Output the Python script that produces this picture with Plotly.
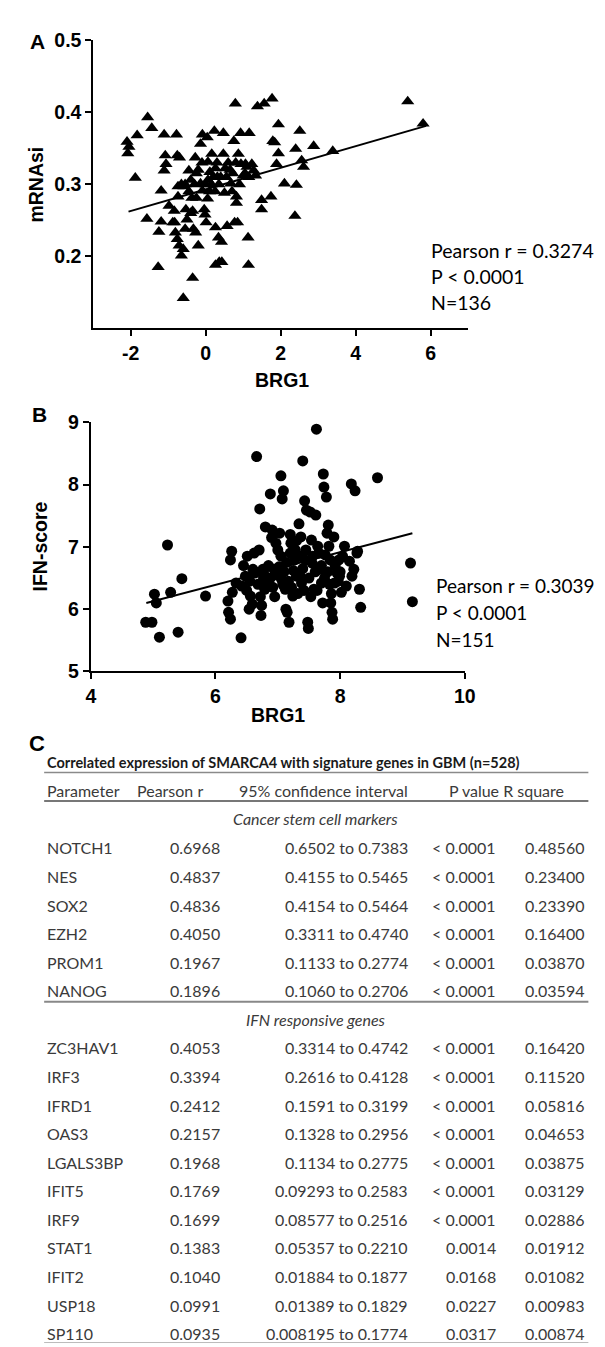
import plotly.graph_objects as go

W, H = 605, 1347

# ---------------- Panel A data (BRG1 vs mRNAsi) ----------------
a_x = [-2.10, -2.08, -2.05, -1.83, -1.88, -1.55, -1.44, -1.57, -1.19, -1.19, -1.25, -1.27,
       -1.11, -1.08, -1.06, -1.11, -0.98,
       -0.88, -0.78, -0.76, -0.70, -0.74, -0.74, -0.84, -0.83, -0.81, -0.76, -0.71, -0.65,
       -0.60, -0.58, -0.53, -0.50, -0.60, -0.55, -0.45, -0.40, -0.37, -0.35, -0.33, -0.28,
       -0.25, -0.25, -0.27, -0.20, -0.35,
       -0.14, -0.09, -0.14, -0.09, -0.04, -0.02, 0.01, 0.06, 0.04, 0.06, 0.11, 0.16, 0.23,
       0.26, 0.31, 0.26, 0.34, 0.42, 0.26, 0.36, 0.43, 0.47, 0.47, 0.52, 0.50, 0.57, 0.67,
       0.72, 0.75, 0.79, 0.82, 0.82, 0.77, 0.85, 0.87, 0.93, 0.94, 1.00, 1.06, 1.10, 1.16,
       1.13, 1.14, 1.23, 1.28, 1.33, 1.38, 1.49, 1.49, 1.56, 1.74, 1.77, 1.79, 1.84, 1.89,
       1.94, 1.94, 2.10, 2.42, 2.40, 2.38, 2.51, 2.56, 2.61, 2.88, 3.39, 5.39, 5.80,
       -0.65, -0.55, -0.45, -0.40, -0.30, -0.20, -0.10, 0.00, 0.05, 0.10, 0.15, 0.20, 0.25,
       0.30, 0.35, 0.40, 0.55, 0.60, 0.65, 0.70, 0.80, 0.90, 1.05, 1.15]
a_y = [0.359, 0.343, 0.352, 0.368, 0.309, 0.393, 0.378, 0.252, 0.291, 0.248, 0.234, 0.185,
       0.369, 0.340, 0.328, 0.319, 0.270,
       0.247, 0.369, 0.340, 0.337, 0.297, 0.283, 0.263, 0.247, 0.233, 0.224, 0.215, 0.201,
       0.210, 0.297, 0.265, 0.251, 0.142, 0.238, 0.319, 0.306, 0.281, 0.263, 0.238, 0.337,
       0.315, 0.281, 0.233, 0.215, 0.170,
       0.356, 0.369, 0.301, 0.291, 0.265, 0.258, 0.247, 0.306, 0.365, 0.331, 0.317, 0.342, 0.374,
       0.322, 0.310, 0.240, 0.226, 0.220, 0.188, 0.192, 0.192, 0.371, 0.342, 0.322, 0.288, 0.242, 0.301,
       0.315, 0.360, 0.412, 0.283, 0.274, 0.247, 0.247, 0.342, 0.371, 0.328, 0.312, 0.328, 0.324, 0.371,
       0.226, 0.188, 0.328, 0.319, 0.312, 0.408, 0.278, 0.265, 0.412, 0.283, 0.419, 0.360, 0.358, 0.328,
       0.343, 0.383, 0.301, 0.299, 0.349, 0.256, 0.374, 0.333, 0.324, 0.353, 0.346, 0.415, 0.384,
       0.300, 0.300, 0.290, 0.260, 0.300, 0.320, 0.330, 0.300, 0.280, 0.290, 0.300, 0.310, 0.290,
       0.330, 0.300, 0.310, 0.310, 0.330, 0.320, 0.290, 0.330, 0.300, 0.315, 0.310]
a_fit_x = [-2.06, 5.88]
a_fit_y = [0.262, 0.381]
a_xticks = [-2, 0, 2, 4, 6]
a_xticklabels = ["-2", "0", "2", "4", "6"]
a_yticks = [0.2, 0.3, 0.4, 0.5]
a_yticklabels = ["0.2", "0.3", "0.4", "0.5"]
a_stats = ["Pearson r = 0.3274", "P < 0.0001", "N=136"]

# ---------------- Panel B data (BRG1 vs IFN-score) ----------------
b_x = [4.88, 4.98, 5.10, 5.02, 5.05, 5.23, 5.28, 5.40, 5.46, 5.84, 6.20, 6.21, 6.24, 6.24,
       6.26, 6.27, 6.33, 6.41, 6.42, 6.48, 6.51, 6.54, 6.56, 6.59, 6.60, 6.63, 6.66, 6.70,
       6.71, 6.73, 6.74, 6.76, 6.77, 6.79, 6.80, 6.83, 6.88, 6.91, 6.94, 6.97, 7.00, 7.03,
       7.05, 7.06, 7.07, 7.09, 7.12, 7.13, 7.15, 7.18, 7.21, 7.24, 7.27, 7.30, 7.34, 7.37,
       7.38, 7.40, 7.43, 7.44, 7.46, 7.48, 7.49, 7.52, 7.54, 7.55, 7.58, 7.61, 7.62, 7.64,
       7.67, 7.70, 7.72, 7.73, 7.74, 7.76, 7.78, 7.79, 7.81, 7.82, 7.84, 7.85, 7.87, 7.88,
       7.90, 7.91, 7.95, 7.98, 7.99, 8.02, 8.04, 8.07, 8.10, 8.15, 8.18, 8.19, 8.22, 8.24,
       8.27, 8.28, 8.31, 8.33, 8.60, 9.13, 9.16,
       6.45, 6.50, 6.55, 6.62, 6.68, 6.72, 6.78, 6.85, 6.88, 6.92, 6.95, 6.98, 7.02, 7.05,
       7.08, 7.10, 7.14, 7.17, 7.20, 7.22, 7.25, 7.28, 7.32, 7.35, 7.36, 7.40, 7.42, 7.45,
       7.50, 7.53, 7.56, 7.60, 7.63, 7.66, 7.70, 7.75, 7.80, 7.83, 7.86, 7.92, 7.97, 8.00,
       7.20, 7.30, 6.90]
b_y = [5.79, 5.79, 5.55, 6.24, 6.10, 7.03, 6.27, 5.63, 6.49, 6.21, 6.13, 5.95, 5.84, 6.79,
       6.93, 6.27, 6.42, 5.54, 6.37, 6.53, 6.85, 6.00, 6.21, 6.08, 6.64, 6.58, 8.45, 6.95,
       7.61, 5.90, 6.06, 6.64, 6.50, 6.32, 7.32, 6.42, 7.85, 7.27, 6.64, 7.06, 6.95, 7.22,
       8.14, 6.48, 7.77, 7.90, 6.32, 6.00, 5.95, 5.79, 7.06, 6.21, 6.79, 6.53, 7.37, 7.16,
       6.42, 8.38, 7.74, 6.79, 7.59, 5.79, 5.69, 7.56, 7.11, 6.74, 6.32, 7.51, 8.89, 7.01,
       6.64, 6.42, 6.10, 8.17, 7.96, 6.87, 7.80, 7.22, 7.35, 7.01, 6.79, 6.10, 5.95, 5.84,
       7.16, 6.42, 6.58, 6.79, 6.53, 6.27, 6.85, 7.01, 6.37, 6.77, 8.01, 6.53, 6.64, 7.90,
       6.90, 6.93, 6.32, 6.03, 8.11, 6.74, 6.12,
       6.70, 6.30, 6.45, 6.90, 6.40, 6.20, 6.55, 6.70, 6.50, 6.35, 6.20, 6.55, 6.68, 6.85,
       6.40, 6.60, 6.75, 6.45, 6.90, 6.35, 6.62, 6.95, 6.25, 6.55, 6.85, 6.65, 6.30, 6.95,
       6.50, 6.20, 6.85, 6.60, 6.30, 6.90, 6.70, 6.50, 6.60, 6.40, 6.25, 6.70, 6.45, 6.60,
       7.20, 7.10, 7.15]
b_fit_x = [4.89, 9.16]
b_fit_y = [6.10, 7.22]
b_xticks = [4, 6, 8, 10]
b_yticks = [5, 6, 7, 8, 9]
b_stats = ["Pearson r = 0.3039", "P < 0.0001", "N=151"]

# ---------------- Panel C table data ----------------
table_title = "Correlated expression of SMARCA4 with signature genes in GBM (n=528)"
header = ["Parameter", "Pearson r", "95% confidence interval", "P value R square"]
section1 = "Cancer stem cell markers"
c_genes = ["NOTCH1", "NES", "SOX2", "EZH2", "PROM1", "NANOG"]
c_r = ["0.6968", "0.4837", "0.4836", "0.4050", "0.1967", "0.1896"]
c_ci = ["0.6502 to 0.7383", "0.4155 to 0.5465", "0.4154 to 0.5464", "0.3311 to 0.4740",
        "0.1133 to 0.2774", "0.1060 to 0.2706"]
c_p = ["< 0.0001"] * 6
c_r2 = ["0.48560", "0.23400", "0.23390", "0.16400", "0.03870", "0.03594"]
section2 = "IFN responsive genes"
i_genes = ["ZC3HAV1", "IRF3", "IFRD1", "OAS3", "LGALS3BP", "IFIT5", "IRF9", "STAT1",
           "IFIT2", "USP18", "SP110"]
i_r = ["0.4053", "0.3394", "0.2412", "0.2157", "0.1968", "0.1769", "0.1699", "0.1383",
       "0.1040", "0.0991", "0.0935"]
i_ci = ["0.3314 to 0.4742", "0.2616 to 0.4128", "0.1591 to 0.3199", "0.1328 to 0.2956",
        "0.1134 to 0.2775", "0.09293 to 0.2583", "0.08577 to 0.2516", "0.05357 to 0.2210",
        "0.01884 to 0.1877", "0.01389 to 0.1829", "0.008195 to 0.1774"]
i_p = ["< 0.0001"] * 7 + ["0.0014", "0.0168", "0.0227", "0.0317"]
i_r2 = ["0.16420", "0.11520", "0.05816", "0.04653", "0.03875", "0.03129", "0.02886",
        "0.01912", "0.01082", "0.00983", "0.00874"]

# ---------------- helpers ----------------
def px(x):
    return x / W

def py(y):
    return 1 - y / H

LAB = "Liberation Sans, Arial, Helvetica, sans-serif"
AX_FONT = dict(family=LAB, size=19.5, color="black", weight="bold")
TXT_FONT = "Lato, Open Sans, sans-serif"
TBL_COLOR = "#3a3a3a"

fig = go.Figure()

# Panel A
fig.add_trace(go.Scatter(x=a_x, y=a_y, mode="markers", xaxis="x", yaxis="y",
                         marker=dict(symbol="triangle-up", size=11.5, color="black"),
                         showlegend=False, hoverinfo="skip"))
fig.add_trace(go.Scatter(x=a_fit_x, y=a_fit_y, mode="lines", xaxis="x", yaxis="y",
                         line=dict(color="black", width=2), showlegend=False, hoverinfo="skip"))
# Panel B
fig.add_trace(go.Scatter(x=b_x, y=b_y, mode="markers", xaxis="x2", yaxis="y2",
                         marker=dict(symbol="circle", size=11, color="black"),
                         showlegend=False, hoverinfo="skip"))
fig.add_trace(go.Scatter(x=b_fit_x, y=b_fit_y, mode="lines", xaxis="x2", yaxis="y2",
                         line=dict(color="black", width=2), showlegend=False, hoverinfo="skip"))

axis_common = dict(showline=True, linecolor="black", linewidth=2, ticks="outside",
                   ticklen=6, tickwidth=2, tickcolor="black", showgrid=False,
                   zeroline=False, tickfont=AX_FONT)

fig.update_layout(
    width=W, height=H, margin=dict(l=0, r=0, t=0, b=0),
    paper_bgcolor="white", plot_bgcolor="white",
    xaxis=dict(domain=[px(82.5), px(467.4)], range=[-3, 7], tickvals=a_xticks,
               ticktext=a_xticklabels, anchor="y", **axis_common),
    yaxis=dict(domain=[py(314.5), py(21.5)], range=[0.1, 0.5],
               tickvals=a_yticks, ticktext=a_yticklabels, anchor="x", **axis_common),
    xaxis2=dict(domain=[px(80), px(464)], range=[4, 10], tickvals=b_xticks,
                anchor="y2", **axis_common),
    yaxis2=dict(domain=[py(663.3), py(410)], range=[5, 9], tickvals=b_yticks,
                anchor="x2", **axis_common),
)

ann = []

def text(x, y, s, size, anchor="left", bold=False, italic=False, color="black",
         family=TXT_FONT, angle=0):
    ann.append(dict(x=px(x), y=py(y), xref="paper", yref="paper", text=s, showarrow=False,
                    xanchor=anchor, yanchor="middle", textangle=angle, borderpad=0,
                    font=dict(family=family, size=size, color=color,
                              weight="bold" if bold else "normal",
                              style="italic" if italic else "normal")))

# Panel letters
text(25, 23, "A", 21, "center", bold=True, family=LAB)
text(27, 402, "B", 21, "center", bold=True, family=LAB)
text(25, 737, "C", 22, "center", bold=True, family=LAB)
# Axis titles
text(276, 367, "BRG1", 19.5, "center", bold=True, family=LAB)
text(24, 168, "mRNAsi", 19.5, "center", bold=True, family=LAB, angle=-90)
text(272, 708, "BRG1", 19.5, "center", bold=True, family=LAB)
text(28, 536, "IFN-score", 19.5, "center", bold=True, family=LAB, angle=-90)
# Stats
for i, s in enumerate(a_stats):
    text(428, 235 + 26.5 * i, s, 19.5)
for i, s in enumerate(b_stats):
    text(433, 576 + 27.3 * i, s, 19)

# Table
TS = 16
text(34, 756, table_title, 14.5, bold=True, color="#1a1a1a")
hdr_x = [34, 126, 231, 447]
for hx, h in zip(hdr_x, header):
    text(hx, 784, h, TS, color=TBL_COLOR)
text(311, 813, section1, TS, "center", italic=True, color=TBL_COLOR)
text(311, 1017, section2, TS, "center", italic=True, color=TBL_COLOR)

def rows(y0, genes, r, ci, p, r2):
    for k in range(len(genes)):
        y = y0 + 29.05 * k
        text(34, y, genes[k], TS, color=TBL_COLOR)
        text(214, y, r[k], TS, "right", color=TBL_COLOR)
        text(407, y, ci[k], TS, "right", color=TBL_COLOR)
        text(497, y, p[k], TS, "right", color=TBL_COLOR)
        text(588, y, r2[k], TS, "right", color=TBL_COLOR)

rows(842.7, c_genes, c_r, c_ci, c_p, c_r2)
rows(1046, i_genes, i_r, i_ci, i_p, i_r2)

shapes = []
for yy, w, col in [(766, 1.5, "#8a8a8a"), (795, 2, "#777777"), (999, 2, "#888888"),
                   (1345.5, 1, "#bbbbbb")]:
    shapes.append(dict(type="line", xref="paper", yref="paper", x0=px(32), x1=px(591),
                       y0=py(yy), y1=py(yy), line=dict(color=col, width=w)))

fig.update_layout(annotations=ann, shapes=shapes)
fig.write_html("out.html")
